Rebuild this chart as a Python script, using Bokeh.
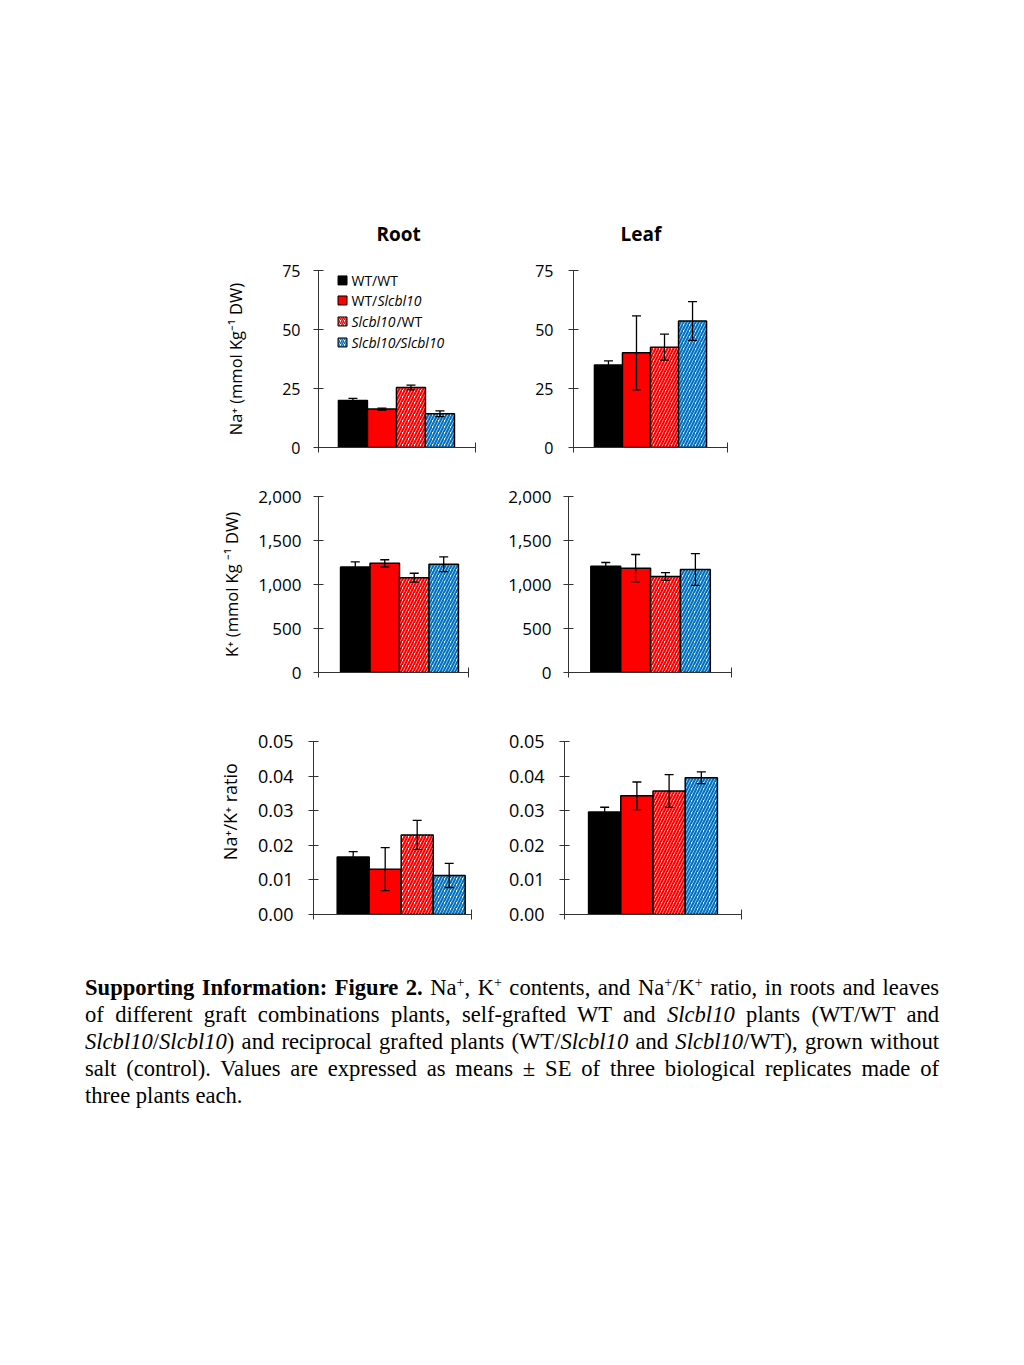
from bokeh.plotting import figure
from bokeh.models import (Range1d, FixedTicker, NumeralTickFormatter, ColumnDataSource,
                          Whisker, TeeHead, Div, Spacer)
from bokeh.layouts import row, column
from bokeh.core.properties import value
from bokeh.embed import file_html
from bokeh.resources import INLINE

FONT = "Open Sans"

# ---------------- data ----------------
groups = ["WT/WT", "WT/Slcbl10", "Slcbl10/WT", "Slcbl10/Slcbl10"]

root_na = [19.9, 16.3, 25.4, 14.3]
root_na_se = [0.9, 0.4, 1.0, 1.2]
leaf_na = [35.0, 40.1, 42.5, 53.6]
leaf_na_se = [1.7, 15.7, 5.5, 8.2]

root_k = [1199, 1241, 1078, 1230]
root_k_se = [57, 40, 50, 83]
leaf_k = [1208, 1186, 1091, 1170]
leaf_k_se = [42, 155, 45, 180]

root_ratio = [0.0166, 0.0131, 0.0230, 0.0113]
root_ratio_se = [0.0016, 0.0062, 0.0042, 0.0035]
leaf_ratio = [0.0296, 0.0343, 0.0357, 0.0395]
leaf_ratio_se = [0.0014, 0.0040, 0.0047, 0.0017]

na_ticks = [0, 25, 50, 75]
k_ticks = [0, 500, 1000, 1500, 2000]
ratio_ticks = [0, 0.01, 0.02, 0.03, 0.04, 0.05]

# ---------------- styles ----------------
BLUE = "#0070C0"
fills = ["black", "red", "white", "white"]
hatches = [" ", " ", "/", "/"]
hatch_colors = ["black", "red", "red", BLUE]


def panel(vals, ses, ticks, fmt, lo, hi, fw, fh, bl, br, bt, bb,
          tick_size, tick_standoff, ylabel=None, label_size="16.5px", label_standoff=10,
          title=None, title_offset=0):
    ymax = ticks[-1]
    p = figure(frame_width=fw, frame_height=fh,
               min_border_left=bl, min_border_right=br,
               min_border_top=bt, min_border_bottom=bb,
               x_range=Range1d(0, 1), y_range=Range1d(0, ymax),
               output_backend="svg", toolbar_location=None, tools="")
    p.outline_line_color = None
    p.xgrid.visible = False
    p.ygrid.visible = False
    p.background_fill_color = "white"
    p.border_fill_color = "white"

    w = (hi - lo) / len(vals)
    xs = [lo + w * (i + 0.5) for i in range(len(vals))]
    src = ColumnDataSource(dict(x=xs, top=vals,
                                upper=[v + s for v, s in zip(vals, ses)],
                                lower=[v - s for v, s in zip(vals, ses)],
                                fill=fills, hatch=hatches, hcol=hatch_colors))
    p.vbar(x="x", top="top", bottom=0, width=w, source=src,
           fill_color="fill", hatch_pattern="hatch", hatch_color="hcol",
           hatch_scale=6, hatch_weight=2.2,
           line_color="black", line_width=1.5)
    wh = Whisker(base="x", upper="upper", lower="lower", source=src,
                 line_color="black", line_width=1.3, level="overlay",
                 upper_head=TeeHead(size=9, line_width=1.3, line_color="black"),
                 lower_head=TeeHead(size=9, line_width=1.3, line_color="black"))
    p.add_layout(wh)

    ya = p.yaxis[0]
    ya.ticker = FixedTicker(ticks=ticks)
    ya.formatter = NumeralTickFormatter(format=fmt)
    ya.major_tick_in = 5
    ya.major_tick_out = 5
    ya.minor_tick_line_color = None
    ya.axis_line_color = "#333333"
    ya.major_tick_line_color = "#333333"
    ya.major_label_text_font = FONT
    ya.major_label_text_font_size = tick_size
    ya.major_label_text_color = "black"
    ya.major_label_standoff = tick_standoff
    if ylabel:
        ya.axis_label = ylabel
        ya.axis_label_text_font = FONT
        ya.axis_label_text_font_size = label_size
        ya.axis_label_text_font_style = "normal"
        ya.axis_label_text_color = "black"
        ya.axis_label_standoff = label_standoff

    xa = p.xaxis[0]
    xa.ticker = FixedTicker(ticks=[0, 1])
    xa.major_label_text_font_size = "1px"
    xa.major_label_text_color = None
    xa.major_label_standoff = 0
    xa.major_tick_in = 5
    xa.major_tick_out = 5
    xa.minor_tick_line_color = None
    xa.axis_line_color = "#333333"
    xa.major_tick_line_color = "#333333"

    if title:
        p.title.text = title
        p.title.align = "left"
        p.title.offset = title_offset
        p.title.text_font = FONT
        p.title.text_font_size = "19px"
        p.title.text_font_style = "bold"
        p.title.text_color = "black"
        p.title.standoff = 48
    return p


SH = 8  # page offset

# Row 1: Na+
p_root_na = panel(root_na, root_na_se, na_ticks, "0", 0.127, 0.866, 157, 177,
                  310 + SH, 10, 262 + SH, 20, "16px", 13,
                  ylabel="Na\u207a (mmol Kg\u207b\u00b9 DW)", label_size="16.5px",
                  label_standoff=32, title="Root", title_offset=58)
p_leaf_na = panel(leaf_na, leaf_na_se, na_ticks, "0", 0.136, 0.864, 154, 177,
                  88, 20, 262 + SH, 20, "16px", 15,
                  title="Leaf", title_offset=47)

# legend inside the root Na panel
leg_y = [70.8, 62.3, 53.4, 44.5]
leg_x = 0.153
txt_x = 0.21
p_root_na.scatter(x=[leg_x] * 4, y=leg_y, marker="square", size=9,
                  fill_color=fills, hatch_pattern=hatches, hatch_color=hatch_colors,
                  hatch_scale=4, hatch_weight=1.5, line_color="black", line_width=1)
leg_src = ColumnDataSource(dict(
    x=[txt_x] * 6,
    y=[leg_y[0], leg_y[1], leg_y[1], leg_y[2], leg_y[2], leg_y[3]],
    t=["WT/WT", "WT/", "Slcbl10", "Slcbl10", "/WT", "Slcbl10/Slcbl10"],
    st=["normal", "normal", "italic", "italic", "normal", "italic"],
    xo=[0, 0, 26, 0, 45, 0],
))
p_root_na.text(x="x", y="y", text="t", x_offset="xo", source=leg_src,
               text_font=value(FONT), text_font_size="14px", text_font_style="st",
               text_baseline="middle", text_align="left", text_color="black")

# Row 2: K+
p_root_k = panel(root_k, root_k_se, k_ticks, "0,0", 0.147, 0.933, 150, 176,
                 310 + SH, 10, 29, 20, "17px", 12,
                 ylabel="K\u207a (mmol Kg \u207b\u00b9 DW)", label_size="16.5px",
                 label_standoff=12)
p_leaf_k = panel(leaf_k, leaf_k_se, k_ticks, "0,0", 0.137, 0.870, 163, 176,
                 90, 20, 29, 20, "17px", 12)

# Row 3: ratio
p_root_r = panel(root_ratio, root_ratio_se, ratio_ticks, "0.00", 0.150, 0.960, 158, 173,
                 305 + SH, 10, 49, 20, "18px", 15,
                 ylabel="\u00a0" * 7 + "Na\u207a/K\u207a ratio", label_size="18px",
                 label_standoff=13)
p_leaf_r = panel(leaf_ratio, leaf_ratio_se, ratio_ticks, "0.00", 0.136, 0.864, 177, 173,
                 83, 20, 49, 20, "18px", 15)

caption_lines = [
    "<b>Supporting Information: Figure 2.</b> Na<sup>+</sup>, K<sup>+</sup> contents, "
    "and Na<sup>+</sup>/K<sup>+</sup> ratio, in roots and leaves",
    "of different graft combinations plants, self-grafted WT and <i>Slcbl10</i> plants "
    "(WT/WT and",
    "<i>Slcbl10</i>/<i>Slcbl10</i>) and reciprocal grafted plants (WT/<i>Slcbl10</i> and "
    "<i>Slcbl10</i>/WT), grown without",
    "salt (control). Values are expressed as means \u00b1 SE of three biological "
    "replicates made of",
    "three plants each.",
]
cap_html = "".join(
    '<div class="%s">%s</div>' % ("j" if i < len(caption_lines) - 1 else "l", t)
    for i, t in enumerate(caption_lines)
)

caption = Div(
    text=cap_html,
    width=854,
    margin=(0, 0, 0, 0),
    styles={"font-family": "'Liberation Serif', serif", "font-size": "22.6px",
            "line-height": "27px", "color": "black", "width": "854px"},
    stylesheets=["sup { font-size: 0.62em; vertical-align: 0.55em; line-height: 0; }",
                 ".j { display: block; width: 854px; text-align: justify; "
                 "text-align-last: justify; }",
                 ".l { display: block; width: 854px; text-align: left; }"],
)

layout = column(
    row(p_root_na, p_leaf_na),
    row(p_root_k, p_leaf_k),
    row(p_root_r, p_leaf_r),
    Spacer(height=40),
    row(Spacer(width=77 + SH), caption),
)

open("out.html", "w").write(file_html(layout, INLINE))
